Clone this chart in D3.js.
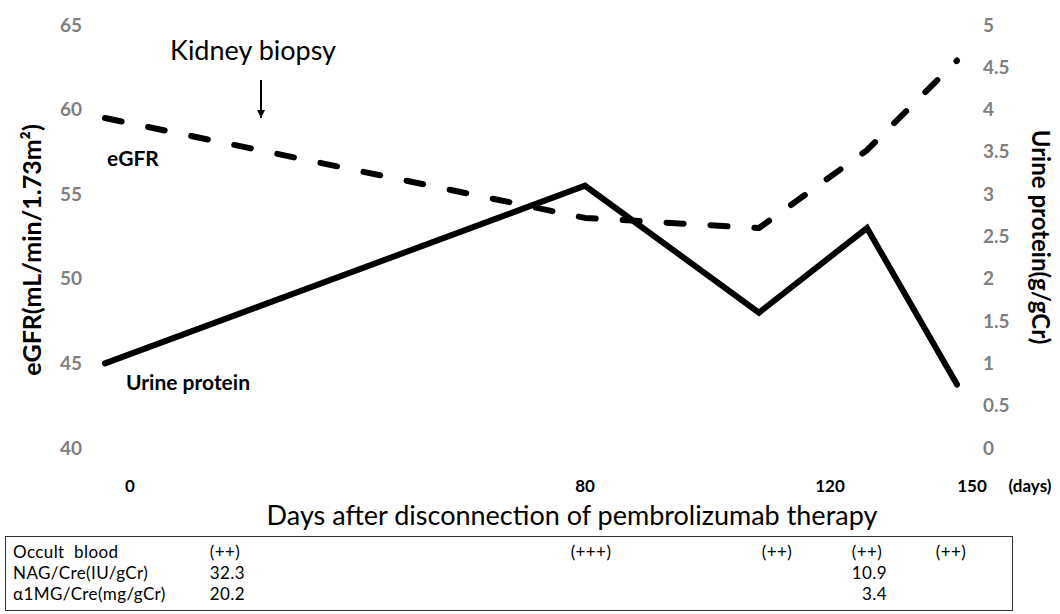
<!DOCTYPE html>
<html>
<head>
<meta charset="utf-8">
<script src="https://cdn.jsdelivr.net/npm/d3@7/dist/d3.min.js"></script>
<style>
  html, body { margin: 0; padding: 0; background: #fff; }
  svg { display: block; }
  text { font-family: Lato, "Open Sans", sans-serif; white-space: pre; }
</style>
</head>
<body>
<svg id="chart" width="1060" height="614"></svg>
<script>
// ---------- data ----------
const days = [0, 80, 109, 127, 142];
const egfr = [59.5, 53.6, 53.0, 57.6, 62.9];
const urineProtein = [1.0, 3.1, 1.6, 2.6, 0.75];
const xTickValues = [0, 80, 120, 150];
const leftTicks = [40, 45, 50, 55, 60, 65];
const rightTicks = [0, 0.5, 1, 1.5, 2, 2.5, 3, 3.5, 4, 4.5, 5];
const biopsyDay = 26;

const tableRowLabels = ["Occult  blood", "NAG/Cre(IU/gCr)", "\u03b11MG/Cre(mg/gCr)"];
const tableDays = [20, 81, 112, 127, 141];
const occultBlood = ["(++)", "(+++)", "(++)", "(++)", "(++)"];
const nagCre = ["32.3", "", "", "10.9", ""];
const a1mgCre = ["20.2", "", "", "3.4", ""];

// ---------- layout ----------
const svg = d3.select("#chart");
const x = d3.scaleLinear().domain([0, 80]).range([105, 585]);
const yL = d3.scaleLinear().domain([40, 65]).range([448, 25]);
const yR = d3.scaleLinear().domain([0, 5]).range([448, 25]);

// left axis
const leftAxis = d3.axisLeft(yL).tickValues(leftTicks).tickSize(0).tickPadding(0).tickFormat(d3.format("d"));
const gL = svg.append("g").attr("transform", "translate(82,0)").call(leftAxis);
gL.select(".domain").remove();
gL.selectAll("text").attr("fill", "#7f7f7f").style("font-size", "19px").style("font-weight", "bold")
  .style("font-family", "Lato, sans-serif");

// right axis
const rightAxis = d3.axisRight(yR).tickValues(rightTicks).tickSize(0).tickPadding(0).tickFormat(d => String(d));
const gR = svg.append("g").attr("transform", "translate(983,0)").call(rightAxis);
gR.select(".domain").remove();
gR.selectAll("text").attr("fill", "#7f7f7f").style("font-size", "19px").style("font-weight", "bold")
  .style("font-family", "Lato, sans-serif");

// x tick labels
const xLabelNudge = {0: 25, 120: 5, 150: -33};
svg.append("g").selectAll("text").data(xTickValues).join("text")
  .attr("x", d => x(d) + (xLabelNudge[d] || 0))
  .attr("y", 492)
  .attr("text-anchor", "middle")
  .style("font-size", "17px").style("font-weight", "bold")
  .text(d => d);
svg.append("text").attr("x", 1030).attr("y", 492).attr("text-anchor", "middle")
  .style("font-size", "17px").style("font-weight", "bold").text("(days)");

// x axis title
svg.append("text").attr("x", 572).attr("y", 525).attr("text-anchor", "middle")
  .style("font-size", "27px").text("Days after disconnection of pembrolizumab therapy");

// axis titles
svg.append("text").attr("transform", "translate(41,250) rotate(-90)").attr("text-anchor", "middle")
  .style("font-size", "25px").style("font-weight", "bold").text("eGFR(mL/min/1.73m\u00b2)");
svg.append("text").attr("transform", "translate(1032,237) rotate(90)").attr("text-anchor", "middle")
  .style("font-size", "24px").style("font-weight", "bold").text("Urine protein(g/gCr)");

// lines
const egfrLine = d3.line().x((d, i) => x(days[i])).y(d => yL(d));
const upLine = d3.line().x((d, i) => x(days[i])).y(d => yR(d));

svg.append("path").datum(egfr).attr("d", egfrLine)
  .attr("fill", "none").attr("stroke", "#000").attr("stroke-width", 6)
  .attr("stroke-dasharray", "17 27").attr("stroke-linecap", "round").attr("stroke-linejoin", "round");
svg.append("path").datum(urineProtein).attr("d", upLine)
  .attr("fill", "none").attr("stroke", "#000").attr("stroke-width", 6)
  .attr("stroke-linecap", "round").attr("stroke-linejoin", "miter");

// series labels
svg.append("text").attr("x", 107).attr("y", 166).style("font-size", "21px").style("font-weight", "bold").text("eGFR");
svg.append("text").attr("x", 126).attr("y", 390).style("font-size", "21px").style("font-weight", "bold").text("Urine protein");

// biopsy annotation
svg.append("defs").append("marker").attr("id", "ah").attr("viewBox", "0 0 10 10")
  .attr("refX", 10).attr("refY", 5).attr("markerWidth", 4).attr("markerHeight", 4)
  .attr("markerUnits", "strokeWidth").attr("orient", "auto")
  .append("path").attr("d", "M0,0 L10,5 L0,10 z").attr("fill", "#000");
svg.append("line").attr("x1", x(biopsyDay)).attr("x2", x(biopsyDay)).attr("y1", 80).attr("y2", 118)
  .attr("stroke", "#000").attr("stroke-width", 2).attr("marker-end", "url(#ah)");
svg.append("text").attr("x", 170).attr("y", 60).style("font-size", "27px").text("Kidney biopsy");

// table
svg.append("rect").attr("x", 5.5).attr("y", 536.5).attr("width", 1007).attr("height", 74)
  .attr("fill", "none").attr("stroke", "#333").attr("stroke-width", 1);
const rowY = [558, 579, 600];
const tableFont = "17px";
svg.append("g").selectAll("text").data(tableRowLabels).join("text")
  .attr("x", 13).attr("y", (d, i) => rowY[i]).style("font-size", tableFont)
  .style("letter-spacing", "0.4px").text(d => d);
svg.append("g").selectAll("text").data(occultBlood).join("text")
  .attr("x", (d, i) => x(tableDays[i])).attr("y", rowY[0]).attr("text-anchor", "middle")
  .style("font-size", tableFont).style("letter-spacing", "0.4px").text(d => d);
[nagCre, a1mgCre].forEach((row, r) => {
  svg.append("g").selectAll("text").data(row).join("text")
    .attr("x", (d, i) => x(tableDays[i]) + 20).attr("y", rowY[r + 1]).attr("text-anchor", "end")
    .style("font-size", tableFont).style("letter-spacing", "0.4px").text(d => d);
});
</script>
</body>
</html>
